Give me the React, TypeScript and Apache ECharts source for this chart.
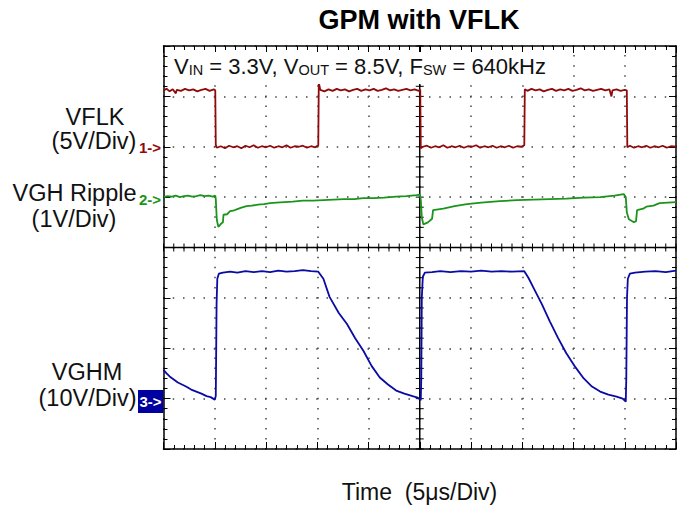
import React, { useEffect, useRef } from "react";
import * as echarts from "echarts";

// Time axis: microseconds (5 µs/div, 10 divisions); vertical axis: divisions (-4..4)
const X_MIN = 0;
const X_MAX = 50;
const X_STEP = 5;
const Y_MIN = -4;
const Y_MAX = 4;
const Y_STEP = 1;

const titleText = "GPM with VFLK";
const xAxisTitle = "Time\u00a0 (5μs/Div)";
const channelNames = ["VFLK", "VGH Ripple", "VGHM"];
const channelScales = ["(5V/Div)", "(1V/Div)", "(10V/Div)"];
const channelMarkers = ["1->", "2->", "3->"];

// CH1 VFLK (red)
const vflk: number[][] = [
  [0, 3.12], [0.3, 3.15], [0.6, 3.1], [0.9, 3.14], [1.2, 3.06], [1.3, 3.13], [1.7, 3.11], [2.1, 3.15], [2.5, 3.12],
  [2.9, 3.14], [3.3, 3.1], [3.7, 3.13], [4.1, 3.15], [4.5, 3.11], [4.9, 3.14], [5.05, 3.12],
  [5.1, 2.04], [5.2, 1.98], [5.6, 2.01], [6.0, 1.97], [6.4, 2.02], [6.8, 1.99], [7.2, 2.01], [7.6, 1.97], [8.0, 2.02],
  [8.4, 1.99], [8.8, 2.03], [9.2, 1.98], [9.6, 2.01], [10.0, 1.99], [10.4, 2.02], [10.8, 1.98], [11.2, 2.01],
  [11.6, 1.99], [12.0, 2.03], [12.4, 1.98], [12.8, 2.01], [13.2, 2.0], [13.6, 2.02], [14.0, 1.98], [14.4, 2.01],
  [14.8, 1.99], [15.1, 2.03],
  [15.15, 3.27], [15.3, 3.13], [15.7, 3.1], [16.1, 3.14], [16.5, 3.11], [16.9, 3.15], [17.3, 3.12], [17.7, 3.14],
  [18.1, 3.1], [18.5, 3.13], [18.9, 3.15], [19.3, 3.11], [19.7, 3.14], [20.1, 3.12], [20.5, 3.15], [20.9, 3.11],
  [21.3, 3.13], [21.7, 3.16], [22.1, 3.12], [22.5, 3.14], [22.9, 3.11], [23.3, 3.13], [23.7, 3.15], [24.1, 3.12],
  [24.5, 3.14], [24.9, 3.11], [25.05, 3.13],
  [25.1, 1.97], [25.3, 2.0], [25.7, 2.02], [26.1, 1.98], [26.5, 2.01], [26.9, 1.99], [27.3, 2.03], [27.7, 1.98],
  [28.1, 2.01], [28.5, 1.99], [28.9, 2.02], [29.3, 1.98], [29.7, 2.01], [30.1, 2.0], [30.5, 2.03], [30.9, 1.98],
  [31.3, 2.01], [31.7, 1.99], [32.1, 2.02], [32.5, 1.98], [32.9, 2.01], [33.3, 1.99], [33.7, 2.02], [34.1, 1.98],
  [34.5, 2.01], [34.9, 2.0], [35.2, 2.03],
  [35.25, 3.14], [35.5, 3.11], [35.9, 3.15], [36.3, 3.12], [36.7, 3.14], [37.1, 3.1], [37.5, 3.13], [37.9, 3.15],
  [38.3, 3.11], [38.7, 3.14], [39.1, 3.12], [39.5, 3.15], [39.9, 3.11], [40.3, 3.13], [40.7, 3.16], [41.1, 3.12],
  [41.5, 3.14], [41.9, 3.11], [42.3, 3.13], [42.7, 3.15], [43.1, 3.12], [43.5, 3.14], [43.7, 3.0], [43.8, 3.12],
  [44.2, 3.14], [44.6, 3.11], [45.0, 3.13], [45.2, 3.12],
  [45.25, 1.99], [45.5, 2.02], [45.9, 1.98], [46.3, 2.01], [46.7, 1.99], [47.1, 2.02], [47.5, 1.98], [47.9, 2.01],
  [48.3, 1.99], [48.7, 2.02], [49.1, 1.98], [49.5, 2.01], [50, 2.0],
];

// CH2 VGH ripple (green)
const vghRipple: number[][] = [
  [0, 1.0], [0.4, 1.02], [0.8, 1.01], [1.2, 1.03], [1.6, 1.0], [2.0, 1.02], [2.4, 1.03], [2.8, 1.01], [3.2, 1.02],
  [3.6, 1.04], [4.0, 1.02], [4.4, 1.03], [4.8, 1.01], [5.05, 1.03],
  [5.1, 0.96], [5.2, 0.55], [5.35, 0.41], [5.6, 0.47], [5.8, 0.5], [5.85, 0.65], [6.2, 0.66], [6.5, 0.72],
  [6.8, 0.73], [7.2, 0.76], [7.6, 0.79], [8.1, 0.82], [8.6, 0.83], [9.2, 0.85], [9.8, 0.86], [10.4, 0.88],
  [11.0, 0.89], [11.8, 0.9], [12.6, 0.91], [13.6, 0.93], [14.6, 0.93], [15.6, 0.94], [16.6, 0.95], [17.6, 0.96],
  [18.6, 0.96], [19.5, 0.98], [20.5, 0.98], [21.5, 0.99], [22.7, 1.01], [23.7, 1.02], [24.7, 1.04], [25.0, 1.05],
  [25.1, 0.95], [25.2, 0.6], [25.35, 0.46], [25.8, 0.5], [26.2, 0.57], [26.3, 0.74], [27.3, 0.77], [28.4, 0.82],
  [29.6, 0.86], [31.0, 0.89], [32.8, 0.92], [34.5, 0.94], [36.1, 0.95], [37.7, 0.96], [39.3, 0.97], [41.0, 0.99],
  [42.6, 1.0], [44.0, 1.03], [44.9, 1.06],
  [45.1, 1.0], [45.2, 0.7], [45.4, 0.56], [45.9, 0.5], [46.1, 0.52], [46.2, 0.74], [46.8, 0.77], [47.1, 0.81],
  [47.8, 0.83], [48.4, 0.88], [49.2, 0.89], [50, 0.9],
];

// CH3 VGHM (blue)
const vghm: number[][] = [
  [0, -2.43], [0.3, -2.5], [0.6, -2.56], [1.0, -2.62], [1.4, -2.68], [1.8, -2.72], [2.2, -2.76], [2.7, -2.82],
  [3.2, -2.86], [3.7, -2.9], [4.2, -2.95], [4.6, -2.97], [5.0, -3.02],
  [5.1, -2.95], [5.12, -2.55], [5.18, -1.1], [5.25, -0.62], [5.4, -0.52], [5.8, -0.5], [6.5, -0.48], [7.2, -0.5],
  [8.0, -0.47], [8.8, -0.49], [9.6, -0.47], [10.4, -0.49], [11.2, -0.46], [12.0, -0.48], [12.8, -0.47],
  [13.6, -0.45], [14.4, -0.47], [15.1, -0.48],
  [15.6, -0.62], [16.2, -0.98], [17.1, -1.3], [17.9, -1.52], [18.7, -1.8], [19.5, -2.05], [20.3, -2.35],
  [21.1, -2.58], [21.9, -2.72], [22.7, -2.84], [23.5, -2.9], [24.3, -2.95], [24.8, -2.98], [25.1, -3.03],
  [25.15, -2.6], [25.2, -1.0], [25.3, -0.58], [25.5, -0.5], [26.2, -0.49], [27.0, -0.47], [28.0, -0.49],
  [29.0, -0.47], [30.0, -0.48], [31.0, -0.46], [32.0, -0.48], [33.0, -0.47], [34.0, -0.48], [35.2, -0.47],
  [35.6, -0.6], [36.1, -0.8], [36.9, -1.12], [37.7, -1.47], [38.5, -1.8], [39.3, -2.1], [40.2, -2.38],
  [41.0, -2.6], [41.8, -2.76], [42.6, -2.86], [43.4, -2.92], [44.2, -2.96], [44.8, -3.0], [45.1, -3.06],
  [45.15, -2.6], [45.22, -1.0], [45.3, -0.62], [45.5, -0.52], [46.0, -0.5], [47.0, -0.48], [48.0, -0.47],
  [49.0, -0.49], [50, -0.46],
];

const RED = "#8f0a0a";
const GREEN = "#1a951a";
const BLUE = "#0a0aa5";
const FONT = "'Liberation Sans', Arial, Helvetica, sans-serif";

export default function App() {
  const ref = useRef<HTMLDivElement>(null);

  useEffect(() => {
    if (!ref.current) return;
    const chart = echarts.init(ref.current, undefined, { renderer: "svg" });

    const frameAxis = (extra: any) => ({
      type: "value",
      axisLine: { show: true, onZero: false, lineStyle: { color: "#000", width: 1.5 } },
      axisTick: { show: true, inside: true, length: 7, lineStyle: { color: "#000", width: 1 } },
      minorTick: { show: true, splitNumber: 5, length: 4, lineStyle: { color: "#000", width: 1 } },
      axisLabel: { show: false },
      splitLine: { show: false },
      ...extra,
    });

    const crosshair = (params: any, api: any) => {
      const children: any[] = [];
      const cx = (X_MIN + X_MAX) / 2;
      const cy = (Y_MIN + Y_MAX) / 2;
      const left = api.coord([X_MIN, cy]);
      const right = api.coord([X_MAX, cy]);
      const top = api.coord([cx, Y_MAX]);
      const bottom = api.coord([cx, Y_MIN]);
      const ls = { stroke: "#000", lineWidth: 1.5 };
      children.push({ type: "line", shape: { x1: left[0], y1: left[1], x2: right[0], y2: right[1] }, style: ls });
      children.push({ type: "line", shape: { x1: top[0], y1: top[1], x2: bottom[0], y2: bottom[1] }, style: ls });
      const xMinor = X_STEP / 5;
      for (let v = X_MIN; v <= X_MAX + 1e-9; v += xMinor) {
        const p = api.coord([v, cy]);
        children.push({ type: "line", shape: { x1: p[0], y1: p[1] - 4, x2: p[0], y2: p[1] + 4 }, style: { stroke: "#000", lineWidth: 1 } });
      }
      const yMinor = Y_STEP / 5;
      for (let v = Y_MIN; v <= Y_MAX + 1e-9; v += yMinor) {
        const p = api.coord([cx, v]);
        children.push({ type: "line", shape: { x1: p[0] - 4, y1: p[1], x2: p[0] + 4, y2: p[1] }, style: { stroke: "#000", lineWidth: 1 } });
      }
      return { type: "group", children };
    };

    const trace = (name: string, data: number[][], color: string) => ({
      name,
      type: "line",
      data,
      xAxisIndex: 0,
      yAxisIndex: 0,
      showSymbol: false,
      symbol: "none",
      silent: true,
      z: 5,
      lineStyle: { color, width: 1.8 },
    });

    const labelStyle = (text: string, x: number, y: number) => ({
      type: "text",
      x,
      y,
      style: { text, fill: "#111", font: `23.5px ${FONT}`, textAlign: "center", textVerticalAlign: "middle" },
    });

    const markerStyle = (text: string, y: number, color: string) => ({
      type: "text",
      x: 161,
      y,
      style: { text, fill: color, font: `bold 15px ${FONT}`, textAlign: "right", textVerticalAlign: "middle" },
    });

    chart.setOption({
      animation: false,
      backgroundColor: "#ffffff",
      grid: { left: 163.5, right: 6, top: 46, bottom: 57, containLabel: false },
      xAxis: [
        frameAxis({
          min: X_MIN, max: X_MAX, interval: X_STEP, position: "bottom",
          splitLine: { show: true, lineStyle: { color: "#444", width: 1.5, type: [1.5, 8.58], dashOffset: 0.75 } },
        }),
        frameAxis({ min: X_MIN, max: X_MAX, interval: X_STEP, position: "top" }),
      ],
      yAxis: [
        frameAxis({
          min: Y_MIN, max: Y_MAX, interval: Y_STEP, position: "left",
          splitLine: { show: true, lineStyle: { color: "#444", width: 1.5, type: [1.5, 8.75], dashOffset: 0.75 } },
        }),
        frameAxis({ min: Y_MIN, max: Y_MAX, interval: Y_STEP, position: "right" }),
      ],
      series: [
        {
          type: "custom",
          coordinateSystem: "cartesian2d",
          xAxisIndex: 0,
          yAxisIndex: 0,
          silent: true,
          z: 3,
          renderItem: crosshair,
          data: [[(X_MIN + X_MAX) / 2, 0]],
        },
        trace(channelNames[0], vflk, RED),
        trace(channelNames[1], vghRipple, GREEN),
        trace(channelNames[2], vghm, BLUE),
      ],
      graphic: {
        z: 100,
        elements: [
          {
            type: "text",
            x: 419,
            y: 20,
            style: { text: titleText, fill: "#000", font: `bold 27px ${FONT}`, textAlign: "center", textVerticalAlign: "middle" },
          },
          {
            type: "text",
            x: 168,
            y: 52,
            z: 100,
            style: {
              text: "{m|V}{s|IN}{m| = 3.3V, V}{s|OUT}{m| = 8.5V, F}{s|SW}{m| = 640kHz}",
              textAlign: "left",
              textVerticalAlign: "top",
              fill: "#111",
              backgroundColor: "#ffffff",
              padding: [1, 5, 7, 6],
              rich: {
                m: { fontSize: 22, fontFamily: FONT, lineHeight: 24, verticalAlign: "bottom", fill: "#111" },
                s: { fontSize: 14.5, fontFamily: FONT, lineHeight: 16, verticalAlign: "bottom", fill: "#111" },
              },
            },
          },
          labelStyle(channelNames[0], 95, 117),
          labelStyle(channelScales[0], 94, 141),
          labelStyle(channelNames[1], 74.5, 193),
          labelStyle(channelScales[1], 74, 219),
          labelStyle(channelNames[2], 87, 371.5),
          labelStyle(channelScales[2], 87.5, 397.5),
          markerStyle(channelMarkers[0], 147, RED),
          markerStyle(channelMarkers[1], 199.5, GREEN),
          {
            type: "rect",
            shape: { x: 138, y: 390, width: 25.5, height: 23 },
            style: { fill: "#0000a0" },
          },
          {
            type: "text",
            x: 150.5,
            y: 401.5,
            style: { text: channelMarkers[2], fill: "#fff", font: `bold 15px ${FONT}`, textAlign: "center", textVerticalAlign: "middle" },
          },
          {
            type: "text",
            x: 419.5,
            y: 492,
            style: { text: xAxisTitle, fill: "#111", font: `23px ${FONT}`, textAlign: "center", textVerticalAlign: "middle" },
          },
        ],
      },
    });

    return () => chart.dispose();
  }, []);

  return (
    <div
      ref={ref}
      style={{ position: "fixed", left: 0, top: 0, width: 682, height: 506, background: "#fff" }}
    />
  );
}
